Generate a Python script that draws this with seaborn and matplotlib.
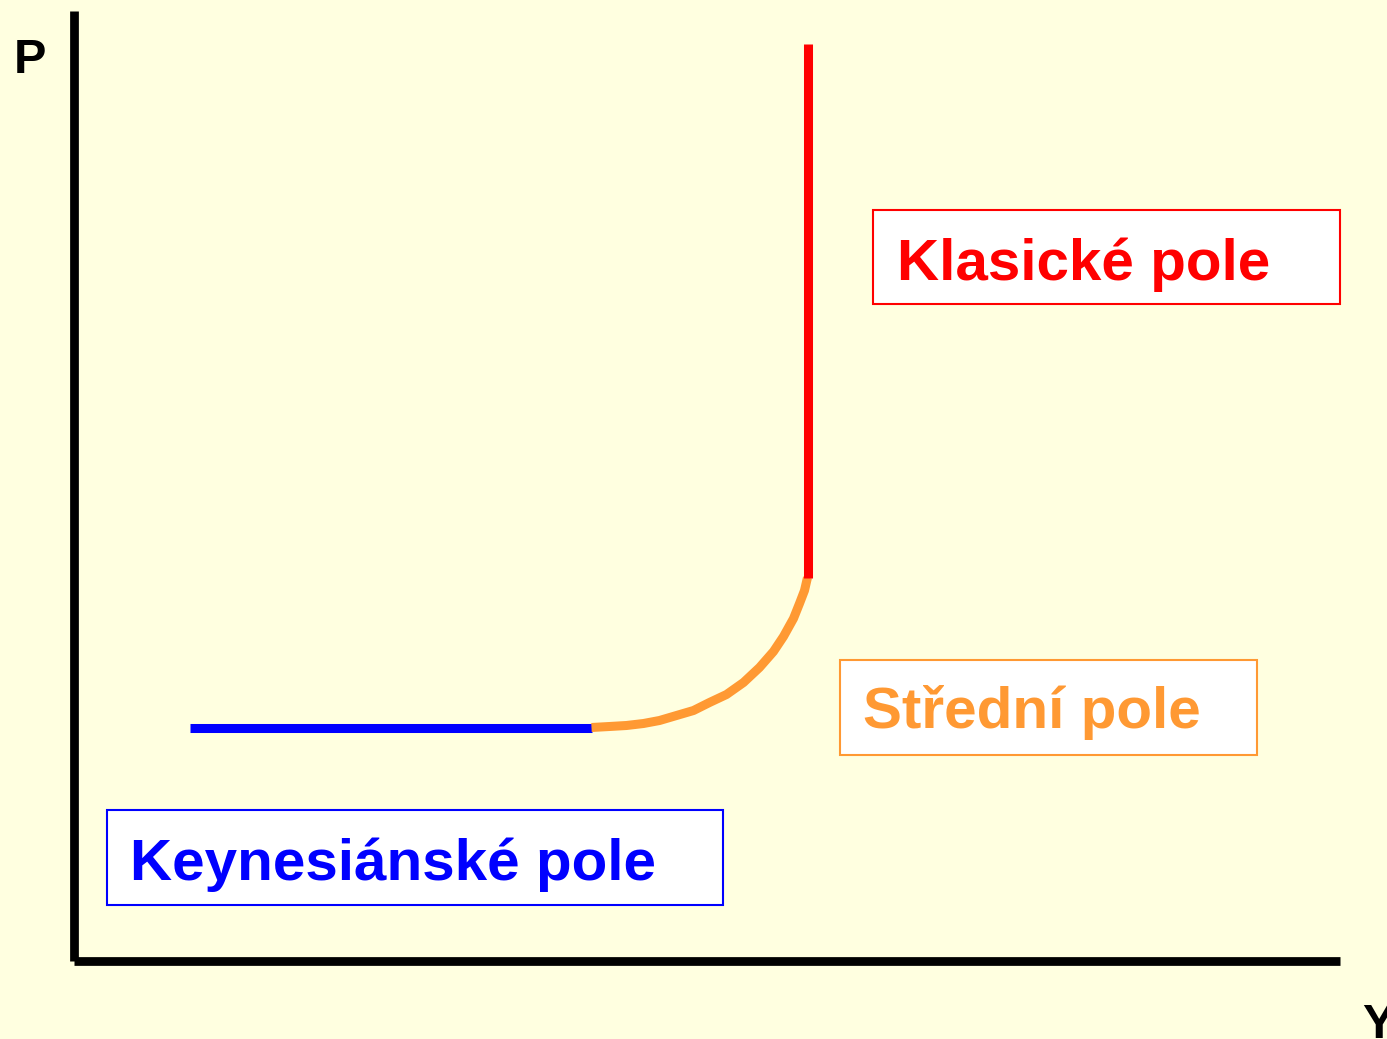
import pandas as pd
import seaborn as sns
from matplotlib import pyplot as plt
from matplotlib.patches import Rectangle

# aggregate supply curve (axis units ~ pixels from origin)
KEYNES_Y = [116, 518]
KEYNES_P = [233, 233]

MIDDLE_Y = [518, 536, 553, 570, 586, 603, 620, 636, 653, 670, 686, 700, 710, 720, 726, 731, 734]
MIDDLE_P = [233, 234, 235, 237, 240, 245, 250, 258, 266, 278, 293, 309, 324, 342, 357, 370, 383]

CLASSIC_Y = [734, 734]
CLASSIC_P = [383, 917]

LABELS = ['Keynesiánské pole', 'Střední pole', 'Klasické pole']
COLORS = ['#0000FF', '#FF9933', '#FF0000']

BG = '#FFFFE0'
W, H = 1387, 1039
X0, Y0 = 73.5, 960.5      # origin of the axes in pixels
X1, Y1 = 1340, 11


def main():
    sns.set_style('white')
    plt.rcParams['font.family'] = ['Liberation Sans', 'DejaVu Sans']

    fig = plt.figure(figsize=(W / 100, H / 100), dpi=100, facecolor=BG)
    ax = fig.add_axes([X0 / W, (H - Y0) / H, (X1 - X0) / W, (Y0 - Y1) / H])
    ax.set_facecolor(BG)
    ax.set_xlim(0, X1 - X0)
    ax.set_ylim(0, Y0 - Y1)

    segments = [
        (KEYNES_Y, KEYNES_P),
        (MIDDLE_Y, MIDDLE_P),
        (CLASSIC_Y, CLASSIC_P),
    ]
    for (xs, ys), color in zip(segments, COLORS):
        df = pd.DataFrame({'Y': xs, 'P': ys})
        sns.lineplot(x='Y', y='P', data=df, sort=False, estimator=None, errorbar=None,
                     color=color, lw=6.5, solid_capstyle='butt', solid_joinstyle='round',
                     ax=ax, clip_on=False)

    # label boxes: (x0, y0, x1, y1) and text anchor
    boxes = [
        ((33.5, 55.5, 649.5, 150.5), (56.5, 80.5)),
        ((766.5, 205.5, 1183.5, 300.5), (789.5, 232.5)),
        ((799.5, 656.5, 1266.5, 750.5), (823.5, 680.5)),
    ]
    for label, color, (box, pos) in zip(LABELS, COLORS, boxes):
        ax.add_patch(Rectangle((box[0], box[1]), box[2] - box[0], box[3] - box[1],
                               facecolor='white', edgecolor=color, lw=1.5,
                               clip_on=False, zorder=3))
        ax.text(pos[0], pos[1], label, color=color, fontsize=42, fontweight='bold',
                ha='left', va='baseline', zorder=4)

    ax.text(-59.5, 887.5, 'P', fontsize=35, fontweight='bold', color='black',
            ha='left', va='baseline', clip_on=False)
    ax.text(1288.5, -77.5, 'Y', fontsize=35, fontweight='bold', color='black',
            ha='left', va='baseline', clip_on=False)

    sns.despine(ax=ax)
    for side in ['left', 'bottom']:
        ax.spines[side].set_linewidth(6.3)
        ax.spines[side].set_color('black')
        ax.spines[side].set_capstyle('butt')
    ax.set_xticks([])
    ax.set_yticks([])
    ax.set_xlabel('')
    ax.set_ylabel('')

    fig.savefig('out.png', dpi=100, facecolor=BG)


if __name__ == '__main__':
    main()
